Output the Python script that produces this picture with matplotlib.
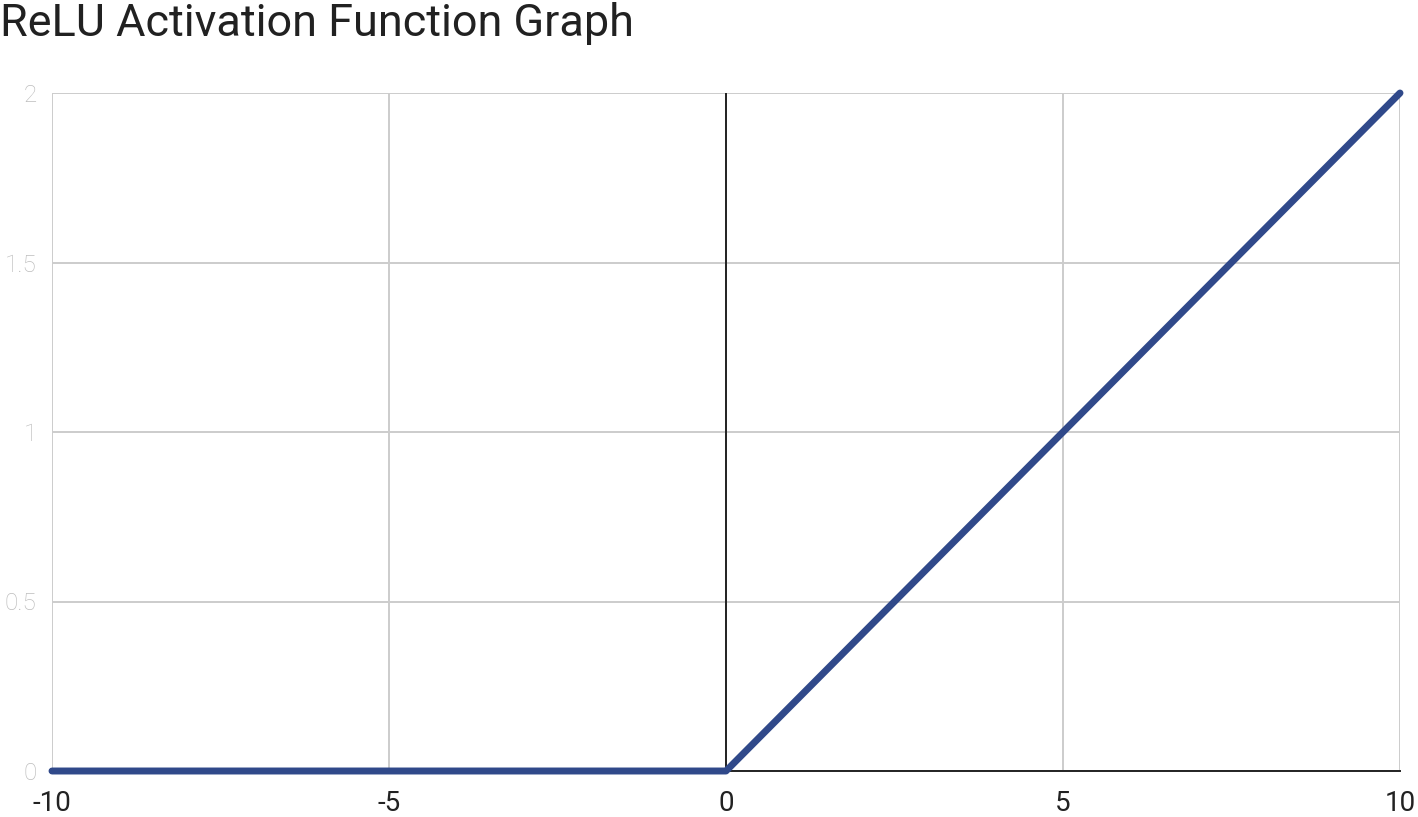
import matplotlib
matplotlib.use("Agg")
import matplotlib.pyplot as plt

# ReLU sample points (y axis is scaled to 0..2)
x_vals = [-10, -5, 0, 5, 10]
relu_vals = [0, 0, 0, 1, 2]
x_ticks = [-10, -5, 0, 5, 10]
y_ticks = [0, 0.5, 1, 1.5, 2]
y_tick_labels = ["0", "0.5", "1", "1.5", "2"]

plt.rcParams["font.family"] = ["Roboto", "DejaVu Sans"]
plt.rcParams["axes.unicode_minus"] = False

fig = plt.figure(figsize=(14.18, 8.17), dpi=100)
ax = fig.add_axes([52 / 1418, 1 - 771 / 817, (1400 - 52) / 1418, (771 - 93) / 817])

ax.set_xlim(-10, 10)
ax.set_ylim(0, 2)
ax.set_xticks(x_ticks)
ax.set_yticks(y_ticks)
ax.set_yticklabels(y_tick_labels)

ax.grid(True, color="#cccccc", linewidth=1.4)
ax.set_axisbelow(True)
for side in ["left", "right", "top"]:
    ax.spines[side].set_visible(False)
ax.spines["bottom"].set_color("#222222")
ax.spines["bottom"].set_linewidth(1.4)
ax.axvline(0, color="#222222", linewidth=1.4, zorder=2)

ax.plot(x_vals, relu_vals, color="#30498a", linewidth=5, solid_capstyle="round",
        clip_on=False, zorder=3)

ax.tick_params(axis="both", length=0)
ax.tick_params(axis="x", labelsize=20, labelcolor="#222222", pad=14)
ax.tick_params(axis="y", labelsize=17.5, labelcolor="#bdbdbd", pad=11)
for lbl in ax.get_yticklabels():
    lbl.set_fontweight("light")

fig.text(0.0, 1 - 36 / 817, "ReLU Activation Function Graph", fontsize=32.4,
         color="#212121", ha="left", va="baseline")

fig.savefig("out.png", dpi=100)
